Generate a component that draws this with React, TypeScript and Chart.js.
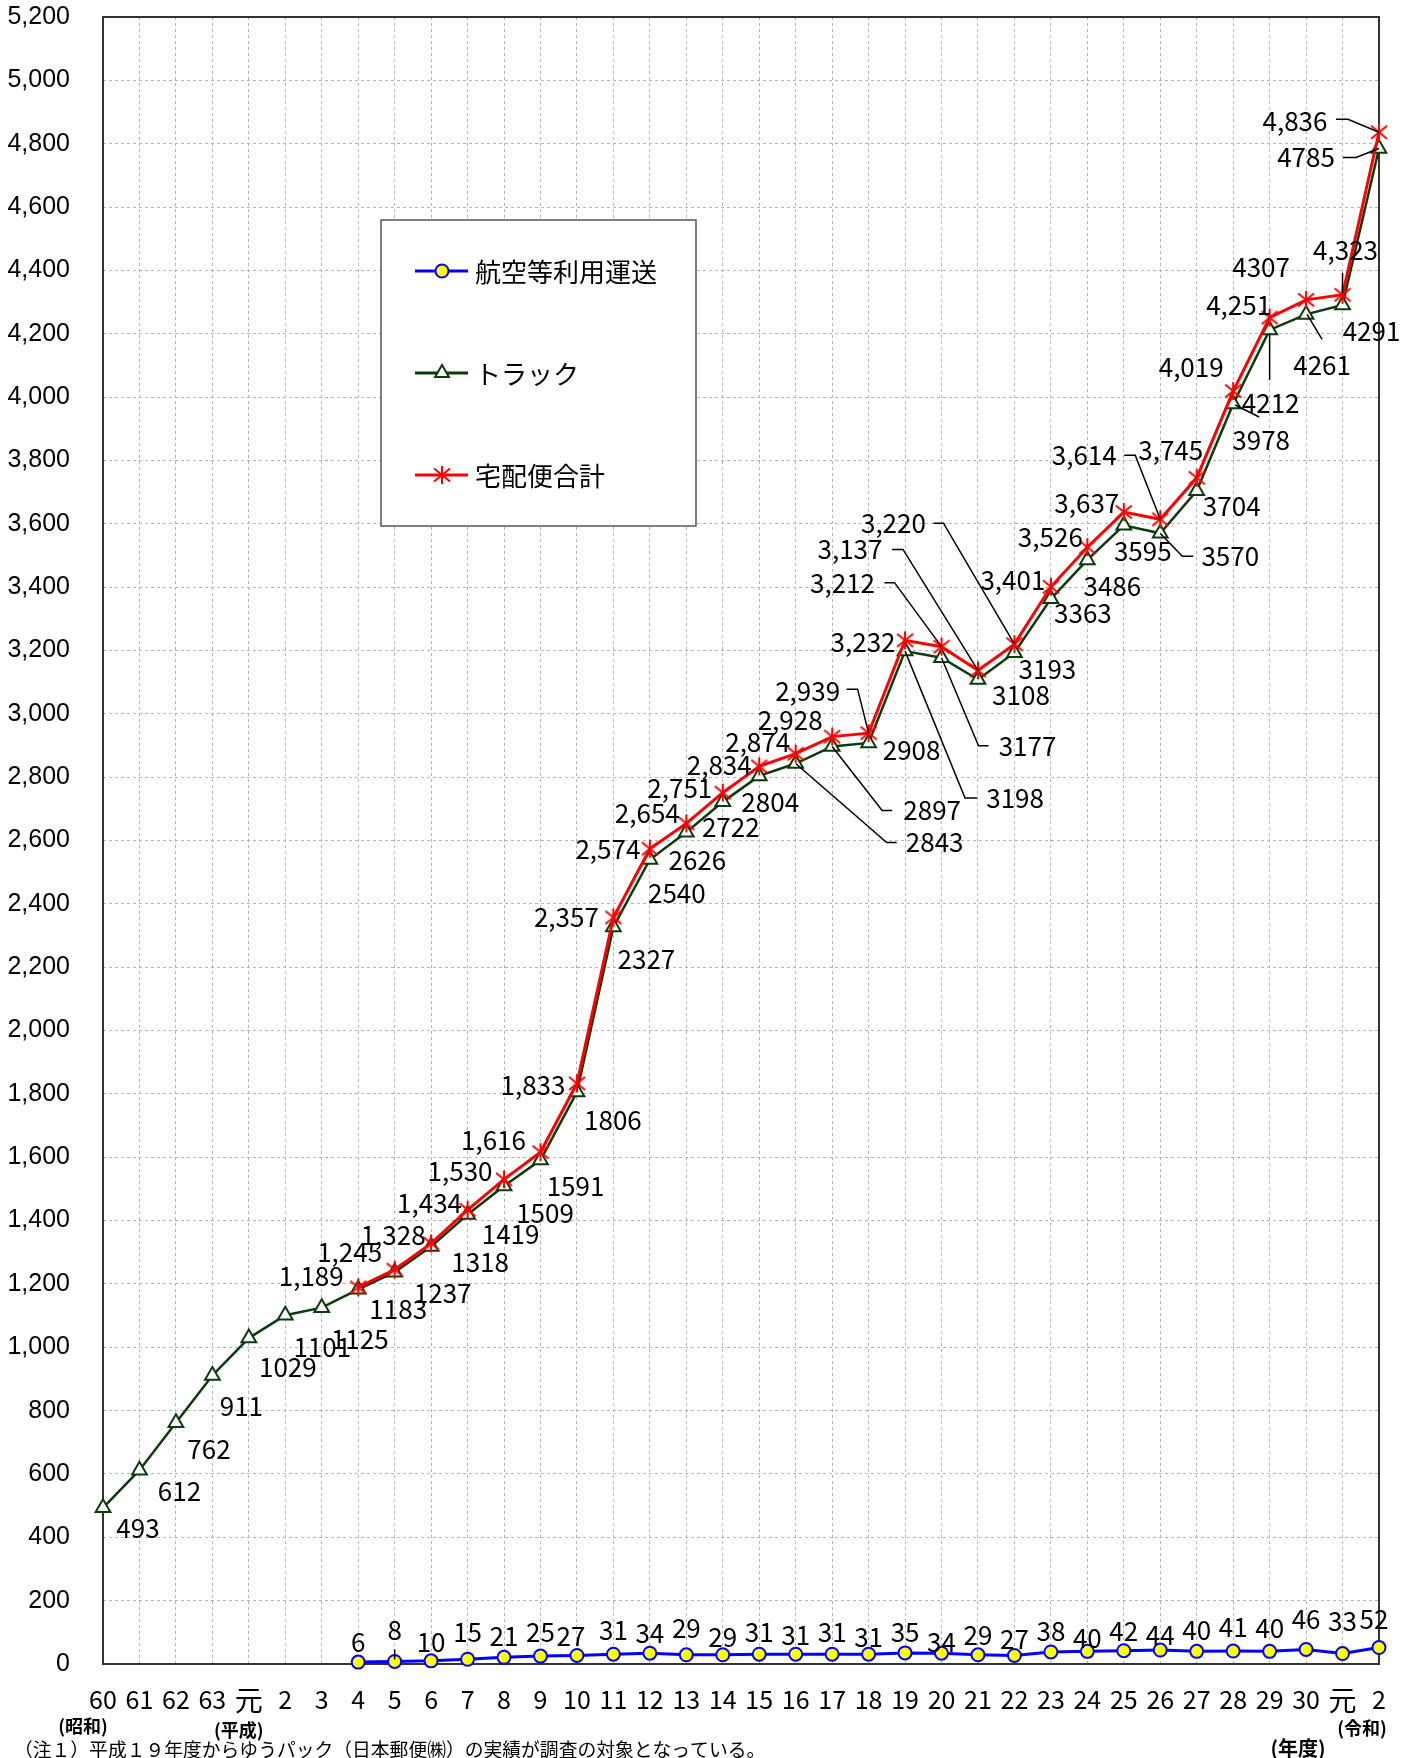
import React, { useEffect, useRef } from 'react';
import { Chart, registerables } from 'chart.js';

Chart.register(...registerables);

// ---------------- data ----------------
const categories = [
  '60', '61', '62', '63', '元', '2', '3', '4', '5', '6', '7', '8', '9', '10', '11', '12', '13', '14',
  '15', '16', '17', '18', '19', '20', '21', '22', '23', '24', '25', '26', '27', '28', '29', '30', '元', '2',
];

const airValues = [
  null, null, null, null, null, null, null,
  6, 8, 10, 15, 21, 25, 27, 31, 34, 29, 29, 31, 31, 31, 31, 35, 34, 29, 27, 38, 40, 42, 44, 40, 41, 40, 46, 33, 52,
];

const truckValues = [
  493, 612, 762, 911, 1029, 1101, 1125, 1183, 1237, 1318, 1419, 1509, 1591, 1806, 2327, 2540, 2626, 2722,
  2804, 2843, 2897, 2908, 3198, 3177, 3108, 3193, 3363, 3486, 3595, 3570, 3704, 3978, 4212, 4261, 4291, 4785,
];

const totalValues = [
  null, null, null, null, null, null, null,
  1189, 1245, 1328, 1434, 1530, 1616, 1833, 2357, 2574, 2654, 2751, 2834, 2874, 2928, 2939, 3232, 3212, 3137,
  3220, 3401, 3526, 3637, 3614, 3745, 4019, 4251, 4307, 4323, 4836,
];

const seriesNames = ['航空等利用運送', 'トラック', '宅配便合計'];
const totalLabelsWithoutComma = [33];
const yMin = 0;
const yMax = 5200;
const yStep = 200;
const eraLabels = ['(昭和)', '(平成)', '(令和)', '(年度)'];
const noteText = '（注１）平成１９年度からゆうパック（日本郵便㈱）の実績が調査の対象となっている。';

// ---------------- label layout (pixel offsets from each point) ----------------
const pad7 = (arr: any[]) => [null, null, null, null, null, null, null, ...arr];

const truckLabelOffsets: any[] = [
  [35, 20], [40, 21], [33, 26], [29, 31], [39, 29], [37, 32], [38, 31], [40, 20], [48, 21], [49, 16],
  [43, 20], [41, 27], [35, 26], [36, 28], [33, 32], [27, 34], [11, 28], [8, 25], [11, 26], [139, 79],
  [100, 64], [43, 7], [110, 147], [86, 88], [43, 16], [33, 16], [32, 14], [25, 26], [19, 26], [70, 23],
  [35, 15], [28, 36], [1, 73], [16, 51], [29, 26], [-73, 9],
];
const truckLeaders: Record<number, number[][]> = {
  19: [[101, 79], [91, 79], [0, 0]],
  20: [[60, 64], [50, 64], [0, 0]],
  22: [[72, 147], [60, 147], [0, 0]],
  23: [[47, 88], [37, 88], [0, 0]],
  29: [[33, 23], [22, 23], [0, 0]],
  31: [[26, 13], [2, 1]],
  32: [[0, 50], [0, 3]],
  33: [[16, 25], [1, 0]],
  35: [[-36, 9], [-23, 9], [0, 0]],
};

const totalLabelOffsets: any[] = pad7([
  [-47, -11], [-45, -18], [-38, -8], [-38, -7], [-44, -8], [-47, -12], [-44, 2], [-47, 0], [-42, 0],
  [-39, -10], [-43, -5], [-40, -1], [-38, -12], [-42, -16], [-61, -42], [-42, 2], [-99, -64],
  [-128, -121], [-121, -121], [-38, -7], [-37, -10], [-37, -9], [-76, -64], [-26, -28], [-42, -24],
  [-31, -12], [-45, -33], [3, -45], [-84, -11],
]);
const totalLeaders: Record<number, number[][]> = {
  21: [[-22, -44], [-11, -44], [0, 0]],
  23: [[-57, -64], [-47, -64], [0, 0]],
  24: [[-86, -121], [-75, -121], [0, 0]],
  25: [[-81, -121], [-71, -121], [0, 0]],
  29: [[-36, -64], [-25, -64], [0, 0]],
  34: [[0, -22], [0, -2]],
  35: [[-43, -13], [-31, -13], [0, 0]],
};

const airLabelOffsets: any[] = pad7([
  [0, -20], [0, -31], [0, -19], [0, -27], [0, -21], [0, -24], [-6, -19], [0, -24], [0, -20], [0, -27],
  [0, -18], [0, -22], [0, -19], [0, -22], [0, -17], [0, -21], [0, -11], [0, -20], [0, -16], [0, -21],
  [0, -13], [0, -20], [0, -15], [0, -21], [0, -24], [0, -23], [0, -30], [0, -32], [-5, -28],
]);
const airLeaders: Record<number, number[][]> = {
  8: [[0, -12], [0, -2]],
};

// ---------------- styles ----------------
const AIR_LINE = '#0000FF';
const AIR_FILL = '#FFFF00';
const TRUCK_LINE = '#0B3B0B';
const TOTAL_LINE = '#FF0000';
const GRID = '#b4b4b4';
const JP_FONT = '"Noto Sans CJK JP", "Noto Sans CJK SC", sans-serif';
const NUM_FONT = '"Liberation Sans", Arial, sans-serif';

function makeStar(color: string) {
  const c = document.createElement('canvas');
  c.width = 20;
  c.height = 20;
  const g = c.getContext('2d')!;
  g.strokeStyle = color;
  g.lineWidth = 2;
  g.beginPath();
  g.moveTo(2, 3.5);
  g.lineTo(18, 16.5);
  g.moveTo(2, 16.5);
  g.lineTo(18, 3.5);
  g.moveTo(10, 1);
  g.lineTo(10, 19);
  g.stroke();
  return c;
}

function drawTriangle(ctx: CanvasRenderingContext2D, x: number, y: number, r: number) {
  let rad = 0;
  ctx.beginPath();
  ctx.moveTo(x + Math.sin(rad) * r, y - Math.cos(rad) * r);
  rad += (2 * Math.PI) / 3;
  ctx.lineTo(x + Math.sin(rad) * r, y - Math.cos(rad) * r);
  rad += (2 * Math.PI) / 3;
  ctx.lineTo(x + Math.sin(rad) * r, y - Math.cos(rad) * r);
  ctx.closePath();
}

export default function App() {
  const ref = useRef<HTMLCanvasElement>(null);

  useEffect(() => {
    const star = makeStar(TOTAL_LINE);

    const layouts = [
      { offsets: airLabelOffsets, leaders: airLeaders, fmt: (v: number) => String(v) },
      { offsets: truckLabelOffsets, leaders: truckLeaders, fmt: (v: number) => String(v) },
      {
        offsets: totalLabelOffsets,
        leaders: totalLeaders,
        fmt: (v: number, i: number) =>
          totalLabelsWithoutComma.includes(i) ? String(v) : v.toLocaleString('en-US'),
      },
    ];

    const framePlugin = {
      id: 'frame',
      beforeDatasetsDraw(chart: any) {
        const { ctx, chartArea: a } = chart;
        ctx.save();
        ctx.strokeStyle = '#333333';
        ctx.lineWidth = 2;
        ctx.strokeRect(a.left, a.top, a.right - a.left, a.bottom - a.top);
        ctx.restore();
      },
    };

    const legendPlugin = {
      id: 'customLegend',
      afterDatasetsDraw(chart: any) {
        const ctx = chart.ctx as CanvasRenderingContext2D;
        const box = { x: 381, y: 220, w: 315, h: 306 };
        ctx.save();
        ctx.fillStyle = '#ffffff';
        ctx.fillRect(box.x, box.y, box.w, box.h);
        ctx.strokeStyle = '#555555';
        ctx.lineWidth = 1.5;
        ctx.strokeRect(box.x, box.y, box.w, box.h);
        const rows = [51, 153, 255];
        const colors = [AIR_LINE, TRUCK_LINE, TOTAL_LINE];
        ctx.font = `26px ${JP_FONT}`;
        ctx.textBaseline = 'middle';
        ctx.textAlign = 'left';
        rows.forEach((dy, k) => {
          const y = box.y + dy;
          const x0 = box.x + 34;
          const x1 = box.x + 87;
          const xm = box.x + 61;
          ctx.strokeStyle = colors[k];
          ctx.lineWidth = 3;
          ctx.beginPath();
          ctx.moveTo(x0, y);
          ctx.lineTo(x1, y);
          ctx.stroke();
          if (k === 0) {
            ctx.beginPath();
            ctx.arc(xm, y, 6.5, 0, Math.PI * 2);
            ctx.fillStyle = AIR_FILL;
            ctx.fill();
            ctx.lineWidth = 2;
            ctx.strokeStyle = AIR_LINE;
            ctx.stroke();
          } else if (k === 1) {
            drawTriangle(ctx, xm, y, 8);
            ctx.fillStyle = '#ffffff';
            ctx.fill();
            ctx.lineWidth = 2;
            ctx.strokeStyle = TRUCK_LINE;
            ctx.stroke();
          } else {
            ctx.drawImage(star, xm - 10, y - 10);
          }
          ctx.fillStyle = '#000000';
          ctx.fillText(seriesNames[k], box.x + 94, y + 1);
        });
        ctx.restore();
      },
    };

    const labelPlugin = {
      id: 'valueLabels',
      afterDatasetsDraw(chart: any) {
        const ctx = chart.ctx as CanvasRenderingContext2D;
        ctx.save();
        ctx.font = `26px ${JP_FONT}`;
        ctx.fillStyle = '#000000';
        ctx.strokeStyle = '#000000';
        ctx.lineWidth = 1.5;
        ctx.textAlign = 'center';
        ctx.textBaseline = 'middle';
        layouts.forEach((layout, di) => {
          const meta = chart.getDatasetMeta(di);
          const values = chart.data.datasets[di].data as (number | null)[];
          values.forEach((v, i) => {
            if (v == null) return;
            const off = layout.offsets[i];
            const el = meta.data[i];
            if (!off || !el) return;
            const { x, y } = el;
            const leader = layout.leaders[i];
            if (leader) {
              ctx.beginPath();
              leader.forEach(([dx, dy], k) => {
                if (k === 0) ctx.moveTo(x + dx, y + dy);
                else ctx.lineTo(x + dx, y + dy);
              });
              ctx.stroke();
            }
            ctx.fillText(layout.fmt(v, i), x + off[0], y + off[1]);
          });
        });
        ctx.restore();
      },
    };

    const eraPlugin = {
      id: 'eraLabels',
      afterDraw(chart: any) {
        const ctx = chart.ctx as CanvasRenderingContext2D;
        const xs = chart.scales.x;
        const last = categories.length - 1;
        ctx.save();
        ctx.fillStyle = '#000000';
        ctx.textAlign = 'center';
        ctx.textBaseline = 'middle';
        ctx.font = `bold 18px ${JP_FONT}`;
        ctx.fillText(eraLabels[0], xs.getPixelForValue(0) - 20, 1726);
        ctx.fillText(eraLabels[1], xs.getPixelForValue(4) - 10, 1730);
        ctx.fillText(eraLabels[2], xs.getPixelForValue(last) - 17, 1728);
        ctx.font = `bold 20px ${JP_FONT}`;
        ctx.fillText(eraLabels[3], xs.getPixelForValue(last - 2) - 8, 1748);
        ctx.font = `18.8px ${JP_FONT}`;
        ctx.textAlign = 'left';
        ctx.fillText(noteText, 14, 1750);
        ctx.restore();
      },
    };

    const chart = new Chart(ref.current!, {
      type: 'line',
      data: {
        labels: categories,
        datasets: [
          {
            label: seriesNames[0],
            data: airValues,
            borderColor: AIR_LINE,
            borderWidth: 3,
            pointStyle: 'circle',
            pointRadius: 6.5,
            pointBackgroundColor: AIR_FILL,
            pointBorderColor: AIR_LINE,
            pointBorderWidth: 2,
            tension: 0,
            fill: false,
            order: 0,
            clip: false,
          },
          {
            label: seriesNames[1],
            data: truckValues,
            borderColor: TRUCK_LINE,
            borderWidth: 2.5,
            pointStyle: 'triangle',
            pointRadius: 8.5,
            pointBackgroundColor: '#ffffff',
            pointBorderColor: TRUCK_LINE,
            pointBorderWidth: 2,
            tension: 0,
            fill: false,
            order: 2,
            clip: false,
          },
          {
            label: seriesNames[2],
            data: totalValues,
            borderColor: TOTAL_LINE,
            borderWidth: 3,
            pointStyle: star as any,
            pointRadius: 9,
            pointBorderColor: TOTAL_LINE,
            tension: 0,
            fill: false,
            order: 1,
            clip: false,
          },
        ] as any,
      },
      options: {
        responsive: false,
        animation: false,
        devicePixelRatio: 1,
        layout: { padding: { left: 0, top: 17, right: 33, bottom: 0 } },
        plugins: {
          legend: { display: false },
          tooltip: { enabled: false },
        },
        scales: {
          x: {
            type: 'category',
            offset: false,
            grid: { color: GRID, lineWidth: 1, drawTicks: false },
            border: { display: false, dash: [3, 3] },
            ticks: {
              autoSkip: false,
              maxRotation: 0,
              minRotation: 0,
              padding: 20,
              color: '#000000',
              font: (c: any) => ({
                family: JP_FONT,
                size: c.tick && c.tick.label === '元' ? 28 : 25,
              }),
            },
            afterFit: (s: any) => {
              s.height = 94;
              s.paddingLeft = 0;
              s.paddingRight = 0;
            },
          },
          y: {
            min: yMin,
            max: yMax,
            grid: { color: GRID, lineWidth: 1, drawTicks: false },
            border: { display: false, dash: [3, 3] },
            ticks: {
              stepSize: yStep,
              padding: 33,
              color: '#000000',
              font: { family: NUM_FONT, size: 25 },
              callback: (v: any) => Number(v).toLocaleString('en-US'),
            },
            afterFit: (s: any) => {
              s.width = 103;
              s.paddingTop = 0;
              s.paddingBottom = 0;
            },
          },
        },
      } as any,
      plugins: [framePlugin, legendPlugin, labelPlugin, eraPlugin],
    });
    return () => chart.destroy();
  }, []);

  return (
    <div style={{ position: 'absolute', left: 0, top: 0, width: 1412, height: 1758, background: '#ffffff', overflow: 'hidden' }}>
      <canvas ref={ref} width={1412} height={1758} style={{ display: 'block' }} />
    </div>
  );
}
